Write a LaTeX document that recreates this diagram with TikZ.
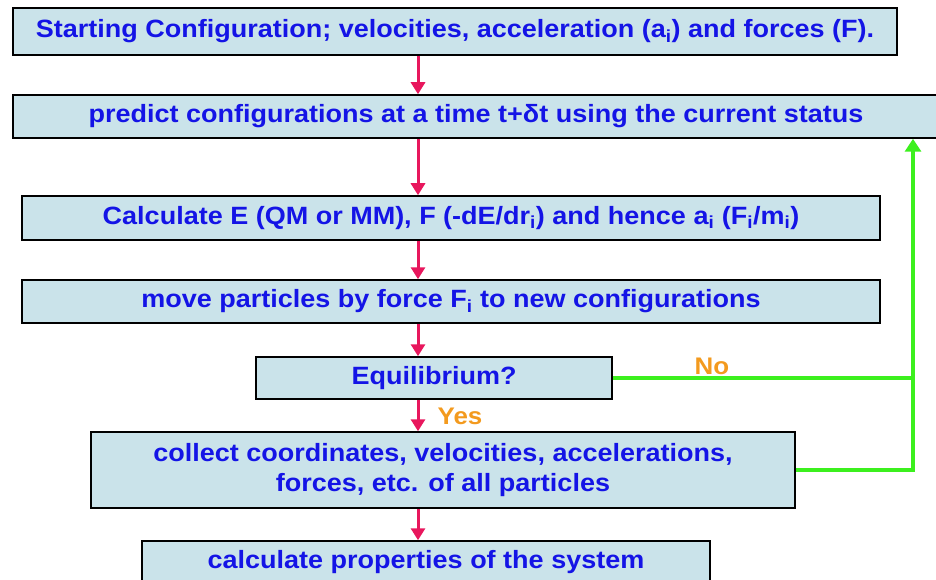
\documentclass[tikz,border=0pt]{standalone}
\usepackage{fontspec}
\setmainfont{Liberation Sans}[FakeStretch=1.08]
\usetikzlibrary{arrows.meta}
\definecolor{boxfill}{HTML}{CAE3EA}
\definecolor{txtblue}{HTML}{1414E6}
\definecolor{arrred}{HTML}{E8175D}
\definecolor{lgreen}{HTML}{3CF01E}
\definecolor{lorange}{HTML}{F39A1E}
\begin{document}
\begin{tikzpicture}[x=1pt,y=-1pt,
  box/.style={draw=black, line width=1.5pt, fill=boxfill, text=txtblue,
    font=\fontsize{25}{30}\selectfont\bfseries, inner sep=0pt, align=center},
  redarr/.style={draw=arrred, line width=3pt, -{Triangle[length=12pt,width=14pt]}},
  greenline/.style={draw=lgreen, line width=4pt},
  lab/.style={text=lorange, font=\fontsize{24}{28}\selectfont\bfseries, inner sep=0pt}]
\useasboundingbox (0,0) rectangle (936,580);
\clip (0,0) rectangle (936,580);
\node[box, minimum width=884pt, minimum height=47pt] (b1) at (455,31.5)
  {Starting Configuration; velocities, acceleration (a\textsubscript{i}) and forces (F).};
\node[box, minimum width=926pt, minimum height=43pt] (b2) at (476,116.5)
  {predict configurations at a time t+δt using the current status};
\node[box, minimum width=858pt, minimum height=44pt] (b3) at (451,218)
  {Calculate E (QM or MM), F (-dE/dr\textsubscript{i}) and hence a\textsubscript{i} (F\textsubscript{i}/m\textsubscript{i})};
\node[box, minimum width=858pt, minimum height=43pt] (b4) at (451,301.5)
  {move particles by force F\textsubscript{i} to new configurations};
\node[box, minimum width=356pt, minimum height=42pt] (b5) at (434,378)
  {Equilibrium?};
\node[box, minimum width=704pt, minimum height=76pt] (b6) at (443,470)
  {collect coordinates, velocities, accelerations,\\forces, etc. of all particles};
\node[box, minimum width=568pt, minimum height=42pt] (b7) at (426,562)
  {calculate properties of the system};
\coordinate (ax) at (418,0);
\coordinate (gx) at (913,0);
\draw[redarr] (ax |- b1.south) -- (ax |- b2.north);
\draw[redarr] (ax |- b2.south) -- (ax |- b3.north);
\draw[redarr] (ax |- b3.south) -- (ax |- b4.north);
\draw[redarr] (ax |- b4.south) -- (ax |- b5.north);
\draw[redarr] (ax |- b5.south) -- (ax |- b6.north);
\draw[redarr] (ax |- b6.south) -- (ax |- b7.north);
\draw[greenline] (b5.east) -- (gx |- b5.east);
\draw[greenline, -{Triangle[length=13pt,width=16pt]}] (b6.east) -- (gx |- b6.east) -- (gx |- b2.south);
\node[lab] (no) at (712,366) {No};
\node[lab] (yes) at (460,416) {Yes};
\end{tikzpicture}
\end{document}
